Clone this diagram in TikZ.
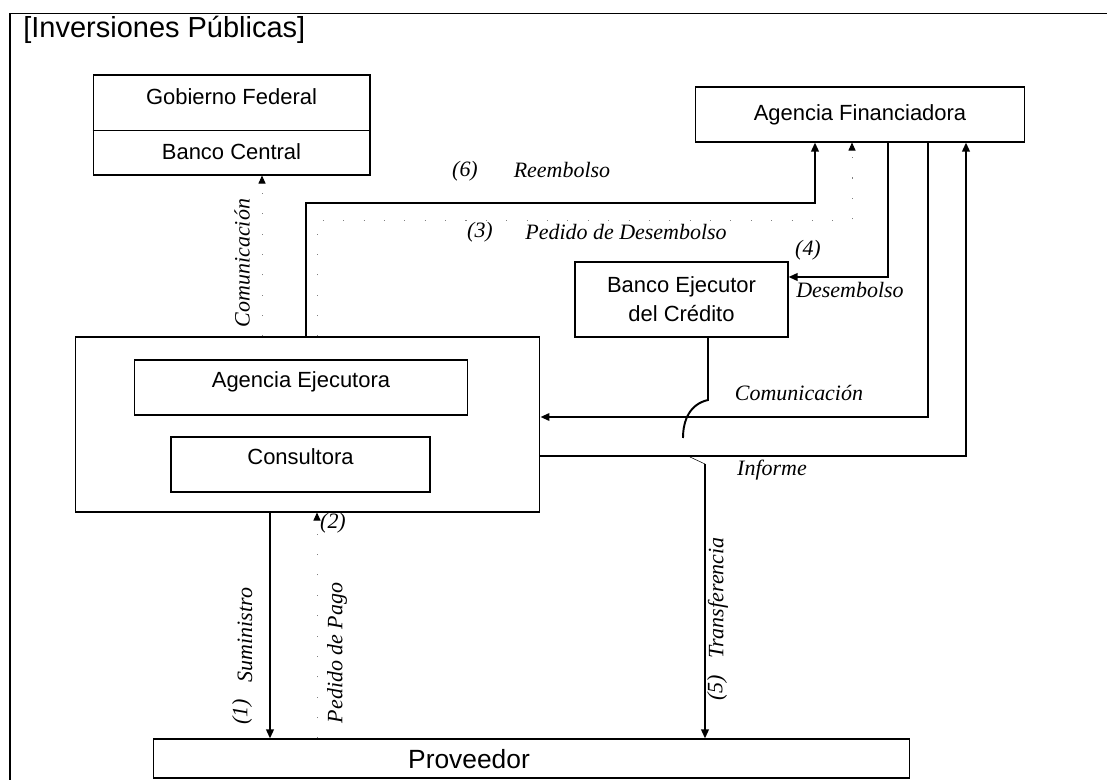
\documentclass[tikz,border=0pt]{standalone}
\usepackage{fontspec}
\setmainfont{Liberation Sans}
\newfontfamily\labelfont{Liberation Serif}
\usetikzlibrary{arrows.meta}

\tikzset{
  box/.style={draw, line width=0.6pt, inner sep=0pt, font=\fontsize{12.5}{16.4}\selectfont},
  flow/.style={line width=1.1pt, -{Triangle[length=1.8mm,width=1.5mm]}},
  faint/.style={black!50, line width=0.5pt, dash pattern=on 0.6pt off 11pt, -{Triangle[length=1.6mm,width=1.4mm,color=black]}},
  lbl/.style={font=\labelfont\itshape\fontsize{12.5}{14}\selectfont, inner sep=0pt},
}

\begin{document}
\begin{tikzpicture}[x=0.02cm, y=-0.02cm]

\useasboundingbox (0,0) rectangle (1107,780);

% frame
\draw[line width=0.9pt] (10,780) -- (10,13);
\draw[line width=0.5pt] (10,13) -- (1107,13);
\node[anchor=west, inner sep=0pt, font=\fontsize{16.5}{18}\selectfont] (title) at (23,30) {[Inversiones Públicas]};

% boxes
\node[box, minimum width=5.54cm, minimum height=2cm] (gob) at (231.5,125) {};
\draw[line width=0.5pt] (gob.west |- 0,130) -- (gob.east |- 0,130);
\node[box, draw=none] (gobfed) at (231.5,97) {Gobierno Federal};
\node[box, draw=none] (bcent) at (231.5,152) {Banco Central};

\node[box, minimum width=6.6cm, minimum height=1.1cm] (af) at (860,114.5) {Agencia Financiadora};
\node[box, minimum width=4.26cm, minimum height=1.5cm, align=center] (be) at (681.5,299.5) {Banco Ejecutor\\del Crédito};

\node[box, minimum width=9.3cm, minimum height=3.5cm] (aeo) at (307.5,424.5) {};
\node[box, minimum width=6.68cm, minimum height=1.1cm, text height=0.32cm, text depth=0.31cm] (aei) at (301,387.5) {Agencia Ejecutora};
\node[box, minimum width=5.18cm, minimum height=1.1cm, text height=0.32cm, text depth=0.3cm] (cons) at (300.5,464.5) {Consultora};

\node[box, minimum width=15.14cm, minimum height=0.78cm] (prov) at (531.5,758.5) {};
\node[box, draw=none, font=\fontsize{15}{18}\selectfont] (provtxt) at (469,759) {Proveedor};

% columns and rows of the connectors
\coordinate (xcom) at (262,0);
\coordinate (xre) at (306,0);
\coordinate (xpd) at (317,0);
\coordinate (xsu) at (270,0);
\coordinate (xpp) at (317,0);
\coordinate (xreaf) at (815,0);
\coordinate (xpdaf) at (852,0);
\coordinate (xde) at (888,0);
\coordinate (xco) at (928,0);
\coordinate (xin) at (966,0);
\coordinate (yre) at (0,203);
\coordinate (ypd) at (0,220);
\coordinate (yde) at (0,277);
\coordinate (yco) at (0,417);
\coordinate (yin) at (0,456);
\coordinate (hopa) at (708,400);
\coordinate (hopb) at (683,438);
\coordinate (hopd) at (690,457);
\coordinate (hopc) at (705,464);

% connectors
\draw[faint] (aeo.north -| xcom) -- (gob.south -| xcom);
\draw[flow] (aeo.north -| xre) -- (xre |- yre) -| (af.south -| xreaf);
\draw[faint] (aeo.north -| xpd) -- (xpd |- ypd) -| (af.south -| xpdaf);
\draw[flow] (af.south -| xde) -- (xde |- yde) -- (be.east |- yde);
\draw[flow] (af.south -| xco) -- (xco |- yco) -- (aeo.east |- yco);
\draw[flow] (aeo.east |- yin) -| (af.south -| xin);
\draw[flow] (aeo.south -| xsu) -- (prov.north -| xsu);
\draw[faint] (prov.north -| xpp) -- (aeo.south -| xpp);
\draw[line width=1.1pt] (be.south -| hopa) -- (hopa) .. controls +(-18,4) and +(0,-18) .. (hopb);
\draw[line width=0.3pt] (hopd) -- (hopc);
\draw[flow] (hopc) -- (prov.north -| hopc);

% labels
\node[lbl] (n6) at (465,171) {(6)};
\node[lbl] (reem) at (562,170) {Reembolso};
\node[lbl] (n3) at (480,232) {(3)};
\node[lbl] (pdes) at (626,232) {Pedido de Desembolso};
\node[lbl] (n4) at (808,250) {(4)};
\node[lbl] (des) at (850,290) {Desembolso};
\node[lbl] (comr) at (799,393) {Comunicación};
\node[lbl] (inf) at (772,470) {Informe};
\node[lbl, rotate=90] (coml) at (242,263) {Comunicación};
\node[lbl, rotate=90] (sum) at (245,635) {Suministro};
\node[lbl, rotate=90] (n1) at (242,712) {(1)};
\node[lbl] (n2) at (333,523) {(2)};
\node[lbl, rotate=90] (ppago) at (337,653) {Pedido de Pago};
\node[lbl, rotate=90] (trans) at (718,598) {Transferencia};
\node[lbl, rotate=90] (n5) at (717,688) {(5)};

\end{tikzpicture}
\end{document}
